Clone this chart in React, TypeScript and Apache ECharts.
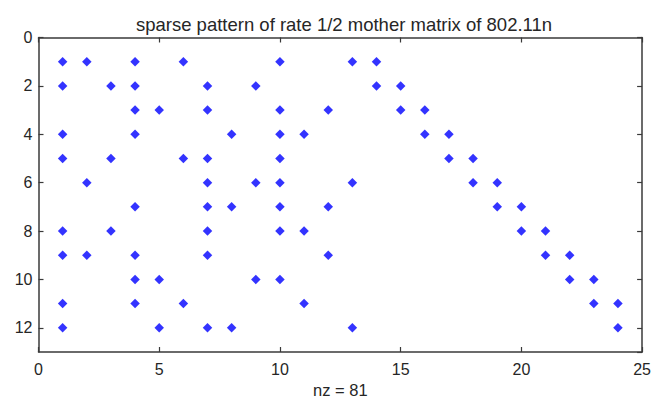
import React, { useEffect, useRef } from "react";
import * as echarts from "echarts";

const titleText = "sparse pattern of rate 1/2 mother matrix of 802.11n";
const xLabel = "nz = 81";
const xTicks = [0, 5, 10, 15, 20, 25];
const yTicks = [0, 2, 4, 6, 8, 10, 12];

// nonzero column indices of each row (rows 1..12)
const row1 = [1, 2, 4, 6, 10, 13, 14];
const row2 = [1, 3, 4, 7, 9, 14, 15];
const row3 = [4, 5, 7, 10, 12, 15, 16];
const row4 = [1, 4, 8, 10, 11, 16, 17];
const row5 = [1, 3, 6, 7, 10, 17, 18];
const row6 = [2, 7, 9, 10, 13, 18, 19];
const row7 = [4, 7, 8, 10, 12, 19, 20];
const row8 = [1, 3, 7, 10, 11, 20, 21];
const row9 = [1, 2, 4, 7, 12, 21, 22];
const row10 = [4, 5, 9, 10, 22, 23];
const row11 = [1, 4, 6, 11, 23, 24];
const row12 = [1, 5, 7, 8, 13, 24];
const rows = [row1, row2, row3, row4, row5, row6, row7, row8, row9, row10, row11, row12];

const FONT = "Liberation Sans";
const AXIS = "#3a3a3a";
const TEXT = "#262626";

export default function App() {
  const ref = useRef<HTMLDivElement>(null);
  useEffect(() => {
    document.body.style.margin = "0";
    if (!ref.current) return;
    const chart = echarts.init(ref.current, undefined, { renderer: "svg" });
    const points: number[][] = [];
    rows.forEach((cols, i) => cols.forEach((c) => points.push([c, i + 1])));
    const xMin = xTicks[0];
    const xMax = xTicks[xTicks.length - 1];
    const common = {
      axisLine: { show: true, onZero: false, lineStyle: { color: AXIS, width: 1.5 } },
      axisTick: { show: true, inside: true, length: 5, lineStyle: { color: AXIS, width: 1.2 } },
      splitLine: { show: false },
    };
    chart.setOption({
      animation: false,
      backgroundColor: "#ffffff",
      title: {
        text: titleText,
        left: 339,
        textAlign: "center",
        top: 10,
        textStyle: { fontFamily: FONT, fontSize: 18.5, fontWeight: "normal", color: TEXT },
      },
      grid: { left: 38.5, right: 9, top: 37.5, bottom: 52 },
      xAxis: [
        {
          type: "value",
          min: xMin,
          max: xMax,
          interval: 5,
          position: "bottom",
          ...common,
          axisLabel: { margin: 9, fontFamily: FONT, fontSize: 16, color: TEXT },
          name: xLabel,
          nameLocation: "middle",
          nameGap: 29,
          nameTextStyle: { fontFamily: FONT, fontSize: 16.5, color: TEXT },
        },
        {
          type: "value",
          min: xMin,
          max: xMax,
          interval: 5,
          position: "top",
          ...common,
          axisLabel: { show: false },
        },
      ],
      yAxis: [
        {
          type: "value",
          min: 0,
          max: 13,
          interval: 2,
          inverse: true,
          position: "left",
          ...common,
          axisLabel: {
            margin: 6,
            fontFamily: FONT,
            fontSize: 16,
            color: TEXT,
            showMaxLabel: false,
            formatter: (v: number) => (yTicks.includes(v) ? String(v) : ""),
          },
        },
        {
          type: "value",
          min: 0,
          max: 13,
          interval: 2,
          inverse: true,
          position: "right",
          ...common,
          axisLabel: { show: false },
        },
      ],
      series: [
        {
          type: "scatter",
          xAxisIndex: 0,
          yAxisIndex: 0,
          symbol: "diamond",
          symbolSize: 9.5,
          itemStyle: { color: "#0000ff" },
          data: points,
        },
      ],
    });
    return () => chart.dispose();
  }, []);
  return <div ref={ref} style={{ width: 654, height: 404 }} />;
}
